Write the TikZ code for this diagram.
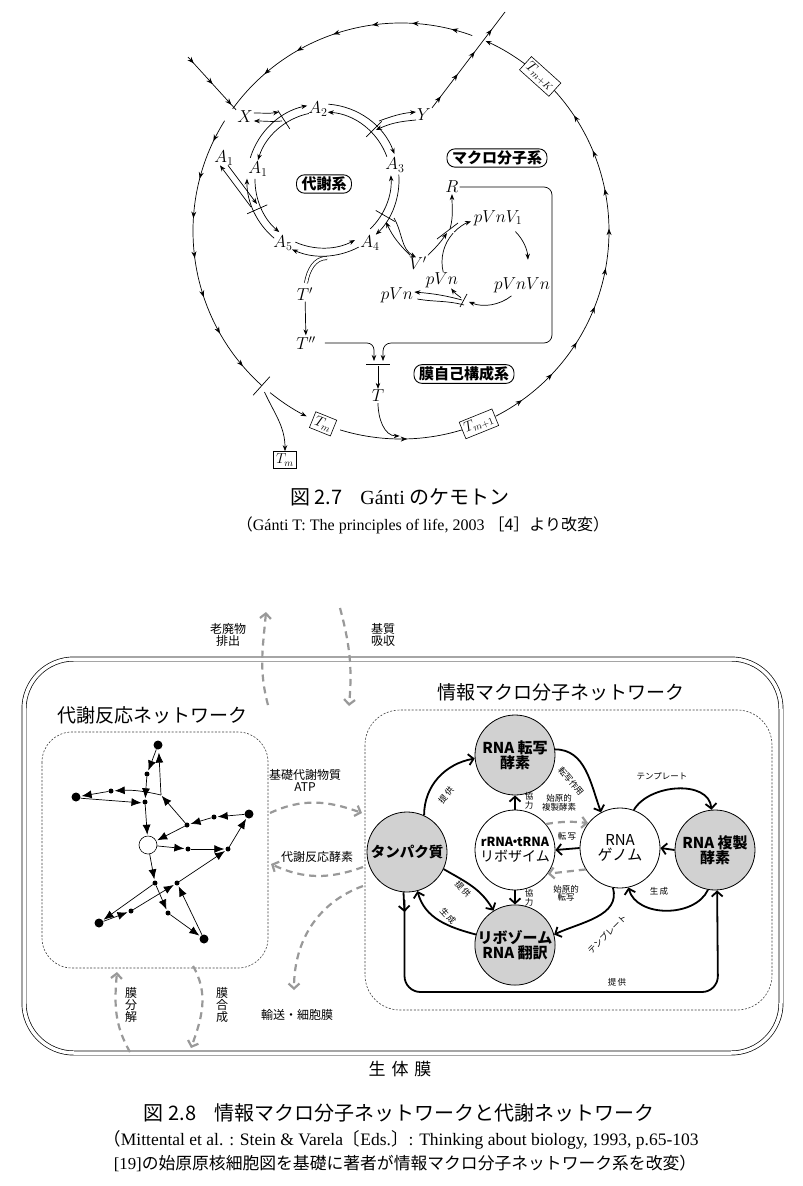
\documentclass[tikz,border=0pt]{standalone}
\usepackage{fontspec}
\setmainfont{Liberation Serif}
\newfontfamily\jp{Noto Sans CJK JP}
\usetikzlibrary{arrows.meta,decorations.markings,calc}
\definecolor{dg}{gray}{0.6}
\definecolor{cf}{gray}{0.82}
\newcommand\fsz[1]{\fontsize{#1}{#1}\selectfont}
\newcommand\dtrack[2]{%
  \draw[ln,ta] ($(C)+(#1:76)$) arc[start angle=#1,end angle=#2,radius=76];
  \draw[ln,ta] ($(C)+(#2:68)$) arc[start angle=#2,end angle=#1,radius=68];}
\newcommand\cbar[1]{\draw[ln] ($(C)+(#1:61)$) -- ($(C)+(#1:83)$);}
\begin{document}
\begin{tikzpicture}[x=1pt,y=1pt,
  ln/.style={line width=0.7pt},
  ta/.style={-{Stealth[length=6pt,width=4.5pt]}},
  rep/.style={postaction={decorate},decoration={markings,
     mark=between positions 0.08 and 0.97 step 40pt with {\arrow{Stealth[length=6.5pt,width=5pt]}}}},
  repb/.style={postaction={decorate},decoration={markings,
     mark=between positions 0.12 and 0.97 step 28pt with {\arrow{Stealth[length=6.5pt,width=5pt]}}}},
  midtip/.style={postaction={decorate},decoration={markings,
     mark=at position #1 with {\arrow{Stealth[length=6.5pt,width=5pt]}}}},
  ml/.style={font=\fsz{17}, inner sep=1pt},
  sysbox/.style={draw, rounded corners=8pt, line width=0.9pt, font=\jp\bfseries\fsz{15}, inner xsep=5pt, inner ysep=2pt},
  tbox/.style={draw, fill=white, line width=0.6pt, inner sep=2.5pt, font=\fsz{14}},
  bigd/.style={circle, fill=black, inner sep=0pt, minimum size=9pt},
  smd/.style={circle, fill=black, inner sep=0pt, minimum size=5pt},
  opd/.style={circle, draw, fill=white, line width=0.6pt, inner sep=0pt, minimum size=18pt},
  ma/.style={line width=0.7pt, -{Latex[length=10pt,width=8pt]}, shorten >=1pt},
  mnode/.style={circle, draw, line width=0.8pt, minimum size=80pt, inner sep=0pt, align=center, font=\jp\fsz{15}},
  gnode/.style={mnode, fill=cf, font=\jp\bfseries\fsz{15}},
  thk/.style={line width=1.8pt, -{Straight Barb[length=5pt,width=11pt]}},
  gd/.style={dg, line width=2.2pt, dash pattern=on 7pt off 5pt, -{Straight Barb[length=5pt,width=11pt]}},
  sm/.style={font=\jp\fsz{8.5}, inner sep=0pt, align=center},
  lab/.style={font=\jp\fsz{12}, inner sep=0pt, align=center},
  dbox/.style={black!75, line width=0.6pt, dash pattern=on 2pt off 1.6pt}
]
\useasboundingbox (0,0) rectangle (803,-1186);
\fill[white] (0,0) rectangle (803,-1186);

% ================= Figure 2.7 =================
\coordinate (O) at (401,-231);
\coordinate (C) at (323,-180);
\coordinate (M) at (485,-262);

% outer circle
\draw[ln,rep] ($(O)+(70:208)$) arc[start angle=70,end angle=144,radius=208];
\draw[ln,rep] ($(O)+(148:208)$) arc[start angle=148,end angle=228,radius=208];
\draw[ln] ($(O)+(228:196)$) -- ($(O)+(228:221)$);
\draw[ln,ta] ($(O)+(231:208)$) arc[start angle=231,end angle=243,radius=208];
\draw[ln,midtip=0.55] ($(O)+(253:208)$) arc[start angle=253,end angle=287,radius=208];
\draw[ln,rep] ($(O)+(297:208)$) arc[start angle=297,end angle=404,radius=208];
\draw[ln,ta] ($(O)+(53:208)$) arc[start angle=53,end angle=66,radius=208];
\node[tbox,rotate=-22] (tm1) at ($(O)+(248:208)$) {$T_m$};
\node[tbox,rotate=22] (tm2) at ($(O)+(292:208)$) {$T_{m+1}$};
\node[tbox,rotate=-42] (tmk) at ($(O)+(48:208)$) {$T_{m+K}$};

% crossing lines
\node[ml] (X) at (245,-117) {$X$};
\node[ml] (Y) at (424,-115) {$Y$};
\coordinate (xs) at (188,-57);
\coordinate (ye) at (505,-12);
\draw[ln,repb] (xs) -- (X.north west);
\draw[ln,repb] (Y.north east) -- (ye);

% metabolic cycle
\dtrack{86}{20}
\dtrack{4}{-46}
\dtrack{-62}{-114}
\dtrack{-130}{-181}
\dtrack{-197}{-258}
\cbar{123}
\cbar{45}
\cbar{204}
\cbar{330}
\node[ml] (A2) at (318,-109) {$A_2$};
\node[ml] (A3) at (395,-165) {$A_3$};
\node[ml] (A4) at (370,-243) {$A_4$};
\node[ml] (A5) at (283,-243) {$A_5$};
\node[ml] (A1i) at (258,-169) {$A_1$};
\node[ml] (A1o) at (224,-158) {$A_1$};
\node[sysbox] (met) at (324,-184) {代謝系};

% branches of the metabolic cycle
\draw[ln,ta] ($(X.east)+(0,4)$) to[out=0,in=190] (279,-112);
\draw[ln,ta] (282,-121) to[out=185,in=0] ($(X.east)+(0,-4)$);
\draw[ln,ta] (379,-121) to[out=20,in=185] ($(Y.west)+(0,3)$);
\draw[ln,ta] ($(Y.west)+(0,-5)$) to[out=185,in=25] (376,-130);
\draw[ln,ta] (251,-207) -- ($(A1o.south)+(-4,1)$);
\draw[ln,ta] ($(A1o.south)+(4,1)$) -- (257,-204);
\node[ml] (Vp) at (418,-263) {$V'$};
\draw[ln,ta] ($(Vp.north west)+(2,0)$) to[out=135,in=-65] (386,-222);
\draw[ln,ta] (394,-218) to[out=-60,in=150] ($(Vp.north)+(-2,-2)$);
\draw[ln,double,double distance=2.5pt] (327,-258) to[out=180,in=80] (306,-283);
\node[ml] (Tp) at (305,-294) {$T'$};
\node[ml] (Tpp) at (306,-343) {$T''$};
\draw[ln,ta] (Tp) -- (Tpp);

% macromolecule cycle
\node[sysbox] (mac) at (497,-158) {マクロ分子系};
\node[ml] (R) at (452,-187) {$R$};
\node[ml] (pv1) at (498,-218) {$pVnV_1$};
\node[ml] (pvnvn) at (522,-285) {$pVnVn$};
\node[ml] (pvi) at (442,-280) {$pVn$};
\node[ml] (pvo) at (397,-295) {$pVn$};
\draw[ln,ta] ($(M)+(136:43)$) arc[start angle=136,end angle=109,radius=43];
\draw[ln,ta] ($(M)+(45:43)$) arc[start angle=45,end angle=3,radius=43];
\draw[ln,ta] ($(M)+(-52:43)$) arc[start angle=-52,end angle=-112,radius=43];
\draw[ln,ta] ($(M)+(-124:43)$) arc[start angle=-124,end angle=-142,radius=43];
\draw[ln] ($(M)+(-166:43)$) arc[start angle=-166,end angle=-222,radius=43];
\draw[ln] (437,-239) -- (458,-223);
\draw[ln] (467,-294) -- (460,-307);
\draw[ln,ta] (Vp.north east) to[out=45,in=-125] (447,-233);
\draw[ln,ta] (450,-229) to[out=75,in=-90] (R.south);
\draw[ln,ta] (462,-300) to[out=165,in=-5] ($(pvo.east)+(0,3)$);
\draw[ln] (464,-305) to[out=165,in=-10] ($(pvo.east)+(3,-4)$);

% membrane system
\coordinate (tb) at (378,-364);
\draw[ln] (366,-364) -- (390,-364);
\draw[ln,ta,rounded corners=7pt] ($(Tpp.east)+(8,0)$) -- (374,-343) -- (374,-361);
\draw[ln,ta,rounded corners=8pt] (R.east) -- (552,-187) -- (552,-343) -- (383,-343) -- (383,-361);
\node[ml] (T) at (378,-396) {$T$};
\draw[ln,ta] (378,-366) -- (T);
\draw[ln,ta] (T.south) to[out=-90,in=180] ($(O)+(271:208)+(-5,3)$);
\node[sysbox] (mem) at (464,-374) {膜自己構成系};
\node[tbox] (tm0) at (285,-460) {$T_m$};
\draw[ln,ta] ($(O)+(228:210)+(4,-5)$) to[out=-65,in=90] (tm0.north);

% captions 2.7
\node[inner sep=0pt] (cap1) at (400,-497) {\fsz{20}{\jp 図 2.7}\hspace{0.9em}Gánti {\jp のケモトン}};
\node[inner sep=0pt] (cap1b) at (423,-525) {\fsz{16}{\jp （}Gánti T: The principles of life, 2003 {\jp ［4］より改変）}};

% ================= Figure 2.8 =================
\draw[line width=0.7pt, double=white, double distance=3.5pt, rounded corners=50pt] (24,-659) rectangle (781,-1053);
\node[font=\jp\fsz{17}, inner sep=0pt] (memb) at (400,-1069) {生\hspace{0.35em}体\hspace{0.35em}膜};

\draw[dbox, rounded corners=30pt] (42,-732) rectangle (268,-968);
\draw[dbox, rounded corners=35pt] (365,-710) rectangle (772,-1010);
\node[font=\jp\fsz{19}, inner sep=0pt] (t1) at (152,-715) {代謝反応ネットワーク};
\node[font=\jp\fsz{19}, inner sep=0pt] (t2) at (561,-692) {情報マクロ分子ネットワーク};

% metabolic network
\node[bigd] (bt) at (158,-745) {};
\node[smd] (s1) at (147,-774) {};
\node[bigd] (bl) at (76,-797) {};
\node[smd] (s2) at (111,-791) {};
\node[smd] (j) at (145,-802) {};
\coordinate (k) at (161,-795);
\node[bigd] (br) at (249,-814) {};
\node[smd] (s3) at (214,-817) {};
\node[smd] (s4) at (187,-825) {};
\node[opd] (oc) at (148,-845) {};
\node[smd] (s5) at (188,-849) {};
\node[smd] (s6) at (228,-849) {};
\node[smd] (s7) at (155,-883) {};
\node[smd] (s8) at (177,-883) {};
\node[smd] (s9) at (131,-911) {};
\node[bigd] (bbl) at (99,-923) {};
\node[smd] (s10) at (168,-913) {};
\node[bigd] (bb) at (204,-939) {};
\draw[ma] (bt) -- (s1);
\draw[ma] (s1) -- (j);
\draw[ma] (k) to[bend right=8] (s2);
\draw[ma] (s2) -- (bl);
\draw[ma] (bl.-15) -- (j.200);
\draw[ma] (j) -- (oc);
\draw[ma] (s4) -- (k);
\draw[ma] (k) -- ($(bt.-80)+(0,-2)$);
\draw[ma] (br) -- (s3);
\draw[ma] (s3) -- (s4);
\draw[ma] (s4) -- (oc);
\draw[ma] (oc) -- (s5);
\draw[ma] (s5) -- (s6);
\draw[ma] (s6) -- (br);
\draw[ma] (oc) -- (s7);
\draw[ma] (s7) -- (bbl);
\draw[ma] (bbl) -- (s9);
\draw[ma] (s9) -- (s8);
\draw[ma] (s8) -- (s6);
\draw[ma] (s7) -- (s10);
\draw[ma] (s10) -- (bb);
\draw[ma] (bb) -- (s8);

% macromolecular network
\node[gnode] (TR) at (515,-755) {RNA 転写\\酵素};
\node[gnode] (P) at (407,-852) {\fsz{14.5}タンパク質};
\node[mnode] (RZ) at (515,-850) {\fsz{12.5}\bfseries rRNA\kern-0.35em・\kern-0.35em tRNA\\\fsz{14}リボザイム};
\node[mnode] (G) at (620,-848) {RNA\\ゲノム};
\node[gnode] (RP) at (715,-850) {RNA 複製\\酵素};
\node[gnode] (RB) at (515,-945) {リボゾーム\\RNA 翻訳};

\draw[thk] (P.65) to[out=90,in=190] (TR.185);
\draw[thk] (TR.8) to[out=0,in=110] (G.118);
\draw[thk] (RZ.north) -- (TR.south);
\draw[thk] (RZ.south) -- (RB.north);
\draw[thk] (G.west) -- (RZ.east);
\draw[thk] (G.70) to[out=60,in=95] (RP.95);
\draw[thk] (RP.west) -- (G.east);
\draw[thk] (RP.-100) to[out=-115,in=-75] (G.-78);
\draw[thk] (G.-100) to[out=-75,in=25] (RB.15);
\draw[thk] (P.-25) to[out=-30,in=120] (RB.122);
\draw[thk] (RB.165) to[out=165,in=-75] (P.-75);
\draw[thk] (P.-95) -- (404.5,-912);
\draw[thk, rounded corners=16pt] (404.5,-900) -- (404.5,-992) -- (718,-992) -- (RP.-87);
\draw[gd] (RZ.40) to[bend left=8] (G.142);
\draw[gd] (G.-148) -- (RZ.-36);

\node[sm,rotate=50] at (446,-795) {提\,供};
\node[sm,rotate=-50] at (571,-781) {転写作用};
\node[sm] at (529,-801) {協\\力};
\node[sm] at (529,-898) {協\\力};
\node[sm] at (567,-836) {転\,写};
\node[sm] at (559,-803) {始原的\\複製酵素};
\node[sm] at (566,-893) {始原的\\転写};
\node[sm] at (662,-776) {テンプレート};
\node[sm] at (659,-891) {生\,成};
\node[sm,rotate=45] at (607,-934) {テンプレート};
\node[sm,rotate=-48] at (463,-889) {提\,供};
\node[sm,rotate=-48] at (448,-916) {生\,成};
\node[sm] at (617,-982) {提\,供};

% gray dashed flows
\draw[gd] (268,-705) to[out=105,in=-95] (266,-612);
\draw[gd] (340,-608) to[out=-75,in=85] (349,-706);
\draw[gd] (270,-813) to[out=25,in=160] (362,-813);
\draw[gd] (363,-867) to[out=-160,in=-25] (271,-864);
\draw[gd] (363,-886) to[out=200,in=90] (294,-990);
\draw[gd] (130,-1052) to[out=120,in=-95] (117,-972);
\draw[gd] (193,-966) to[out=-60,in=70] (191,-1048);

\node[lab] at (228,-635) {老廃物\\排出};
\node[lab] at (383,-635) {基質\\吸収};
\node[lab] at (305,-780) {基礎代謝物質\\ATP};
\node[lab] at (317,-857) {代謝反応酵素};
\node[lab] at (297,-1015) {輸送・細胞膜};
\node[lab] at (131,-1005) {膜\\分\\解};
\node[lab] at (222,-1005) {膜\\合\\成};

% captions 2.8
\node[inner sep=0pt] (cap2) at (399,-1113) {\jp\fsz{20}図 2.8\hspace{0.9em}情報マクロ分子ネットワークと代謝ネットワーク};
\node[inner sep=0pt] (cap2b) at (401,-1140) {\fsz{17.5}{\jp （}Mittental et al. : Stein \& Varela{\jp 〔}Eds.{\jp 〕}: Thinking about biology, 1993, p.65-103};
\node[inner sep=0pt] (cap2c) at (405,-1163) {\fsz{16.8}[19]{\jp の始原原核細胞図を基礎に著者が情報マクロ分子ネットワーク系を改変）}};
\end{tikzpicture}
\end{document}
